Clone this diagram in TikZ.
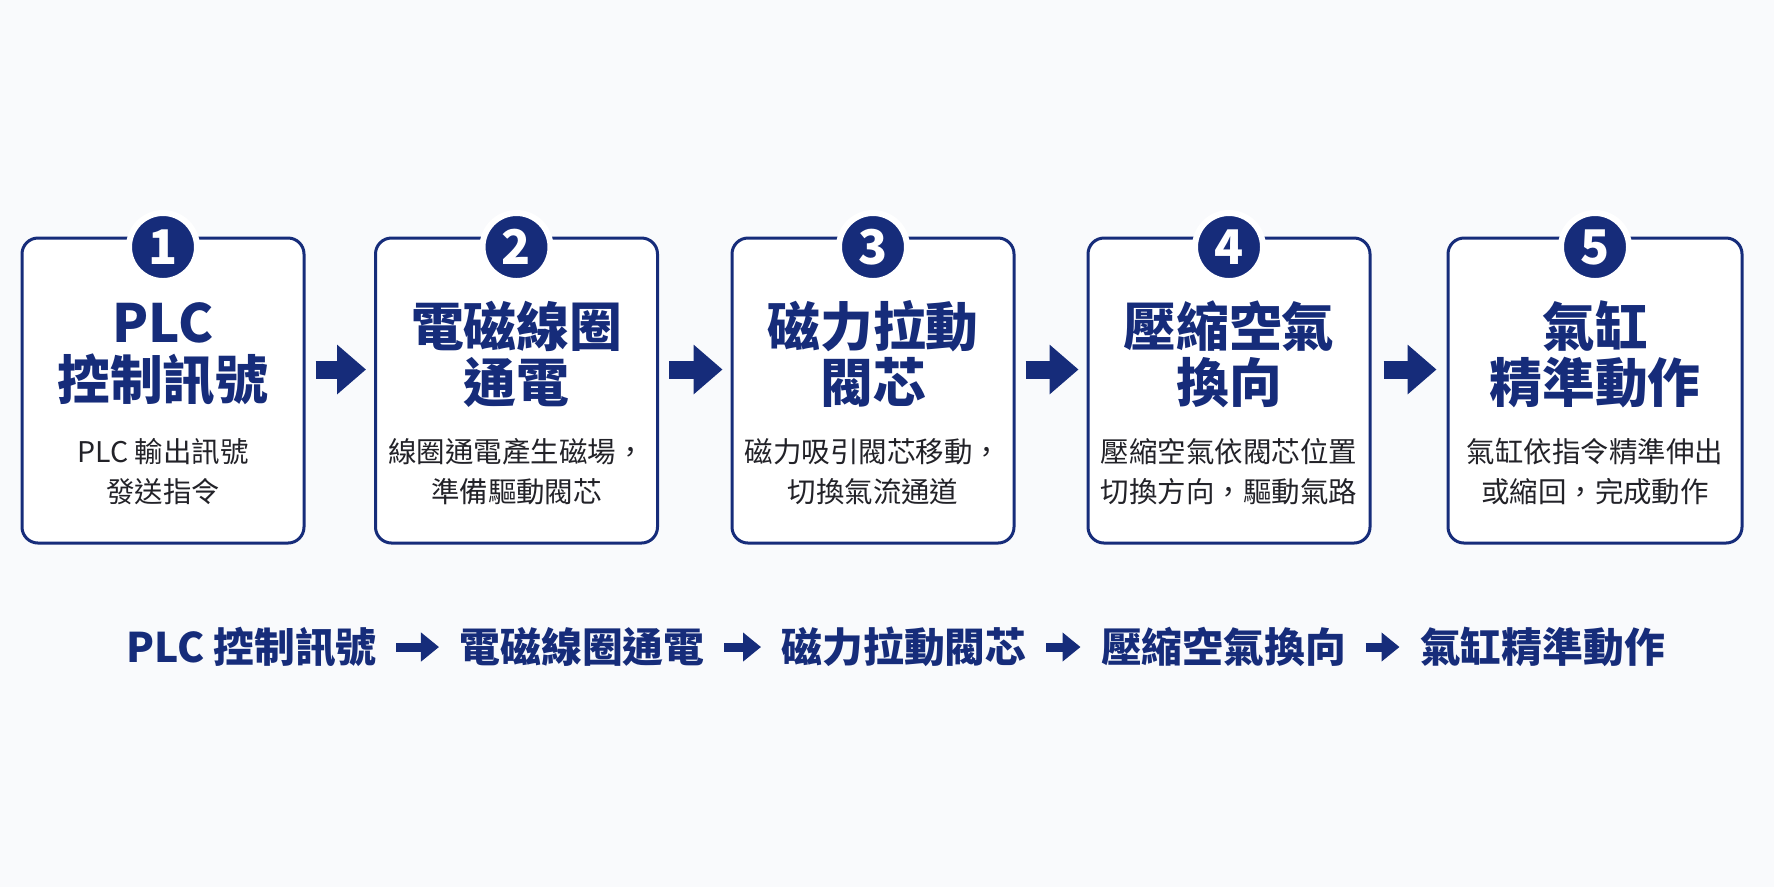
\documentclass[tikz,border=0pt]{standalone}
\usepackage{fontspec}
\usetikzlibrary{arrows.meta}
\newfontfamily\cjk{Noto Sans CJK TC}
\definecolor{navy}{RGB}{22,44,122}
\definecolor{ink}{RGB}{34,34,40}
\definecolor{pagebg}{RGB}{249,250,252}

\begin{document}
\begin{tikzpicture}[x=0.1mm,y=-0.1mm,
		stepbox/.style={draw=navy,line width=0.3mm,fill=white,rounded corners=1.6mm,minimum width=28.2mm,minimum height=30.5mm,inner sep=0pt},
		numdot/.style={circle,fill=navy,draw=white,line width=0.6mm,minimum size=6.8mm,inner sep=0pt,text=white,font=\cjk\bfseries\fontsize{13.6}{14}\selectfont},
		headtext/.style={align=center,text=navy,font=\cjk\bfseries\fontsize{15}{16}\selectfont},
		bodytext/.style={align=center,text=ink,font=\cjk\fontsize{8.1}{11.4}\selectfont},
		flowtext/.style={text=navy,inner sep=0pt,font=\cjk\bfseries\fontsize{11.6}{12}\selectfont},
		bigarrow/.style={navy,line width=1.8mm,-{Triangle[width=4.8mm,length=2.9mm]}},
		smallarrow/.style={navy,line width=0.9mm,-{Triangle[width=2.8mm,length=1.8mm]}}]
	\fill[pagebg] (0,0) rectangle (1774,887);
	
	\node (b1) [stepbox] at (163,390.5){};
	\node (b2) [stepbox] at (516.5,390.5){};
	\node (b3) [stepbox] at (873,390.5){};
	\node (b4) [stepbox] at (1229,390.5){};
	\node (b5) [stepbox,minimum width=29.4mm] at (1595,390.5){};
	
	\node (n1) [numdot] at (163,247){1};
	\node (n2) [numdot] at (516.5,247){2};
	\node (n3) [numdot] at (873,247){3};
	\node (n4) [numdot] at (1229,247){4};
	\node (n5) [numdot] at (1595,247){5};
	
	\node (t1) [headtext] at (163,354){PLC\\控制訊號};
	\node (t2) [headtext] at (516.5,354){電磁線圈\\通電};
	\node (t3) [headtext] at (873,354){磁力拉動\\閥芯};
	\node (t4) [headtext] at (1229,354){壓縮空氣\\換向};
	\node (t5) [headtext] at (1595,354){氣缸\\精準動作};
	
	\node (s1) [bodytext] at (163,472){PLC 輸出訊號\\發送指令};
	\node (s2) [bodytext] at (516.5,472){線圈通電產生磁場，\\準備驅動閥芯};
	\node (s3) [bodytext] at (873,472){磁力吸引閥芯移動，\\切換氣流通道};
	\node (s4) [bodytext] at (1229,472){壓縮空氣依閥芯位置\\切換方向，驅動氣路};
	\node (s5) [bodytext] at (1595,472){氣缸依指令精準伸出\\或縮回，完成動作};
	
	\draw[bigarrow,shorten <=1mm,shorten >=0.8mm] ([yshift=2.1mm]b1.east)--([yshift=2.1mm]b2.west);
	\draw[bigarrow,shorten <=1mm,shorten >=0.8mm] ([yshift=2.1mm]b2.east)--([yshift=2.1mm]b3.west);
	\draw[bigarrow,shorten <=1mm,shorten >=0.8mm] ([yshift=2.1mm]b3.east)--([yshift=2.1mm]b4.west);
	\draw[bigarrow,shorten <=1.2mm,shorten >=1mm] ([yshift=2.1mm]b4.east)--([yshift=2.1mm]b5.west);
	
	\node (r1) [flowtext] at (251.5,647){PLC 控制訊號};
	\node (r2) [flowtext] at (582,647){電磁線圈通電};
	\node (r3) [flowtext] at (904,647){磁力拉動閥芯};
	\node (r4) [flowtext] at (1223.5,647){壓縮空氣換向};
	\node (r5) [flowtext] at (1542.5,647){氣缸精準動作};
	
	\draw[smallarrow,shorten <=1.9mm,shorten >=2mm] (r1)--(r2);
	\draw[smallarrow,shorten <=1.9mm,shorten >=2mm] (r2)--(r3);
	\draw[smallarrow,shorten <=1.9mm,shorten >=2mm] (r3)--(r4);
	\draw[smallarrow,shorten <=1.9mm,shorten >=2mm] (r4)--(r5);
\end{tikzpicture}
\end{document}
